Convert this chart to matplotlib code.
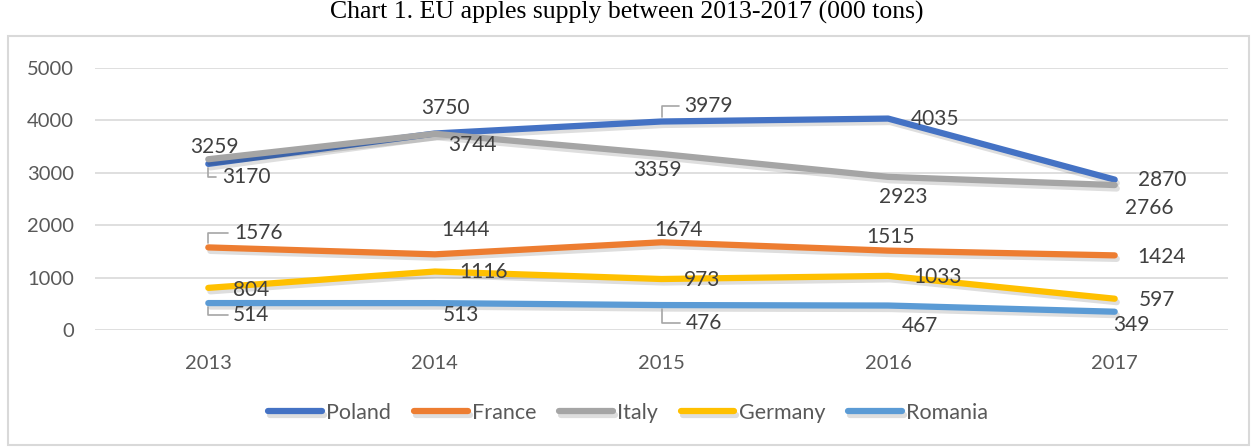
import matplotlib
matplotlib.use('Agg')
import matplotlib.pyplot as plt
import matplotlib.patheffects as pe
from matplotlib.patches import Rectangle


years = ['2013', '2014', '2015', '2016', '2017']
countries = ['Poland', 'France', 'Italy', 'Germany', 'Romania']

poland = [3170, 3750, 3979, 4035, 2870]
france = [1576, 1444, 1674, 1515, 1424]
italy = [3259, 3744, 3359, 2923, 2766]
germany = [804, 1116, 973, 1033, 597]
romania = [514, 513, 476, 467, 349]

series = [poland, france, italy, germany, romania]
colors = ['#4472C4', '#ED7D31', '#A5A5A5', '#FFC000', '#5B9BD5']

# label offsets in pixels (dx, dy) per series / year
label_offsets = [
    [(38, -13), (11, 25), (47, 16), (47, 0), (47, 0)],
    [(50, 14), (31, 24), (17, 12), (2, 14), (47, -2)],
    [(6, 12), (38, -11), (-4, -16), (15, -20), (35, -23)],
    [(43, -2), (49, 0), (41, -1), (49, -1), (42, -1)],
    [(43, -12), (26, -12), (42, -18), (32, -20), (17, -13)],
]
# which labels get a leader line
leaders = {(0, 0), (0, 2), (1, 0), (4, 0), (4, 2)}

W, H = 1254, 448
fig = plt.figure(figsize=(W / 100, H / 100), dpi=100)
ax = fig.add_axes([95 / W, 1 - 330 / H, (1228 - 95) / W, (330 - 68) / H])

sans = 'Lato'
x = list(range(len(years)))

for i, (vals, c, name) in enumerate(zip(series, colors, countries)):
    ax.plot(x, vals, color=c, lw=4.5, solid_capstyle='round', solid_joinstyle='round',
            label=name, zorder=3 + i,
            path_effects=[pe.SimpleLineShadow(offset=(1.5, -2.5), shadow_color='k', alpha=0.13),
                          pe.Normal()])

for i, vals in enumerate(series):
    for j, v in enumerate(vals):
        dx, dy = label_offsets[i][j]
        kw = {}
        if (i, j) in leaders:
            kw['arrowprops'] = dict(arrowstyle='-', color='#A6A6A6', lw=1.2,
                                    connectionstyle='angle,angleA=180,angleB=90,rad=0',
                                    relpos=(0, 0.5), shrinkA=2, shrinkB=3)
        ax.annotate(str(v), (j, v), xytext=(dx, dy), textcoords='offset pixels',
                    ha='center', va='center', fontsize=15, color='#404040',
                    family=sans, zorder=10, **kw)

ax.set_xlim(-0.5, len(years) - 0.5)
ax.set_ylim(0, 5000)
ax.set_yticks(range(0, 5001, 1000))
ax.set_xticks(x)
ax.set_xticklabels(years)
ax.tick_params(axis='both', length=0, labelsize=14.5, labelcolor='#595959')
ax.tick_params(axis='y', pad=15)
ax.tick_params(axis='x', pad=18)
for lab in ax.get_xticklabels() + ax.get_yticklabels():
    lab.set_family(sans)
ax.grid(axis='y', color='#D9D9D9', lw=1.2)
ax.set_axisbelow(True)
for s in ax.spines.values():
    s.set_visible(False)

leg = fig.legend(loc='center', bbox_to_anchor=(628 / W, 1 - 413 / H), ncol=5,
                 frameon=False, handlelength=2.5, handletextpad=0.2, columnspacing=1.05,
                 prop={'family': sans, 'size': 15.5})
for t in leg.get_texts():
    t.set_color('#595959')

fig.patches.append(Rectangle((8 / W, 3 / H), (1249 - 8) / W, (445 - 36) / H,
                             transform=fig.transFigure, fill=False, ec='#D9D9D9', lw=1.5))

fig.text(0.5, 1 - 12 / H, 'Chart 1. EU apples supply between 2013-2017 (000 tons)',
         ha='center', va='center', family='Liberation Serif', fontsize=18.5, color='black')

fig.savefig('out.png', dpi=100)
